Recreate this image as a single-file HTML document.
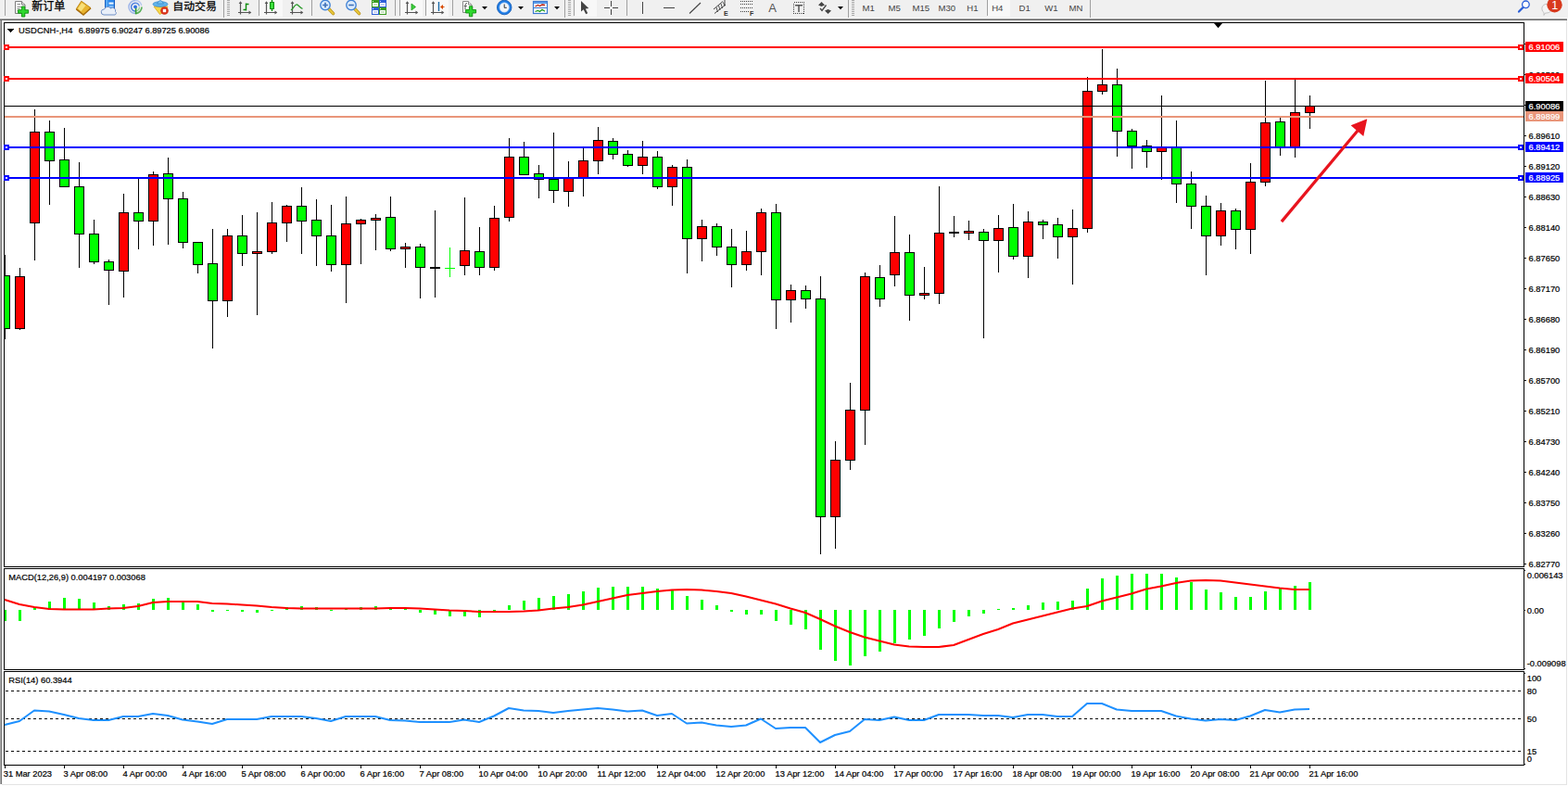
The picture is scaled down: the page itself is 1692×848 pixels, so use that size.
<!DOCTYPE html>
<html><head><meta charset="utf-8"><title>USDCNH H4</title>
<style>
html,body{margin:0;padding:0;background:#fff;}
body{width:1692px;height:848px;overflow:hidden;position:relative;font-family:"Liberation Sans",sans-serif;}
svg{position:absolute;left:0;top:0;display:block;}
svg text{font-family:"Liberation Sans",sans-serif;white-space:pre;}
</style></head><body>
<svg width="1692" height="848" viewBox="0 0 1692 848">
<g shape-rendering="crispEdges">
<rect x="0" y="0" width="1692" height="19" fill="#f0f0f0"/>
<rect x="0" y="19" width="1692" height="1" fill="#f9f9f9"/>
<rect x="0" y="20" width="1691" height="1" fill="#a0a0a0"/>
<rect x="0" y="21" width="1691" height="1" fill="#696969"/>
<rect x="0" y="22" width="1" height="824" fill="#a8a8a8"/>
<rect x="1" y="22" width="1" height="824" fill="#757575"/>
<rect x="1690" y="22" width="1" height="825" fill="#e3e3e3"/>
<rect x="2" y="846" width="1689" height="1" fill="#e3e3e3"/>
<rect x="4" y="24" width="1641" height="1" fill="#000"/>
<rect x="4" y="611" width="1641" height="1" fill="#000"/>
<rect x="4" y="24" width="1" height="588" fill="#000"/>
<rect x="1644" y="24" width="1" height="588" fill="#000"/>
<rect x="4" y="613" width="1641" height="1" fill="#000"/>
<rect x="4" y="722" width="1641" height="1" fill="#000"/>
<rect x="4" y="613" width="1" height="110" fill="#000"/>
<rect x="1644" y="613" width="1" height="110" fill="#000"/>
<rect x="4" y="724" width="1641" height="1" fill="#000"/>
<rect x="4" y="825" width="1641" height="1" fill="#000"/>
<rect x="4" y="724" width="1" height="102" fill="#000"/>
<rect x="1644" y="724" width="1" height="102" fill="#000"/>
<rect x="5" y="275" width="1" height="91" fill="#000"/>
<rect x="5" y="297" width="6" height="58" fill="#000"/>
<rect x="5" y="298" width="5" height="56" fill="#00ff00"/>
<rect x="21" y="289" width="1" height="67" fill="#000"/>
<rect x="16" y="298" width="11" height="57" fill="#000"/>
<rect x="17" y="299" width="9" height="55" fill="#ff0000"/>
<rect x="37" y="118" width="1" height="163" fill="#000"/>
<rect x="32" y="142" width="11" height="99" fill="#000"/>
<rect x="33" y="143" width="9" height="97" fill="#ff0000"/>
<rect x="53" y="130" width="1" height="91" fill="#000"/>
<rect x="48" y="142" width="11" height="32" fill="#000"/>
<rect x="49" y="143" width="9" height="30" fill="#00ff00"/>
<rect x="69" y="138" width="1" height="64" fill="#000"/>
<rect x="64" y="172" width="11" height="30" fill="#000"/>
<rect x="65" y="173" width="9" height="28" fill="#00ff00"/>
<rect x="85" y="175" width="1" height="114" fill="#000"/>
<rect x="80" y="201" width="11" height="52" fill="#000"/>
<rect x="81" y="202" width="9" height="50" fill="#00ff00"/>
<rect x="101" y="237" width="1" height="48" fill="#000"/>
<rect x="96" y="252" width="11" height="31" fill="#000"/>
<rect x="97" y="253" width="9" height="29" fill="#00ff00"/>
<rect x="117" y="280" width="1" height="49" fill="#000"/>
<rect x="112" y="282" width="11" height="10" fill="#000"/>
<rect x="113" y="283" width="9" height="8" fill="#00ff00"/>
<rect x="133" y="209" width="1" height="112" fill="#000"/>
<rect x="128" y="229" width="11" height="64" fill="#000"/>
<rect x="129" y="230" width="9" height="62" fill="#ff0000"/>
<rect x="149" y="192" width="1" height="77" fill="#000"/>
<rect x="144" y="229" width="11" height="10" fill="#000"/>
<rect x="145" y="230" width="9" height="8" fill="#00ff00"/>
<rect x="165" y="185" width="1" height="80" fill="#000"/>
<rect x="160" y="188" width="11" height="51" fill="#000"/>
<rect x="161" y="189" width="9" height="49" fill="#ff0000"/>
<rect x="181" y="170" width="1" height="94" fill="#000"/>
<rect x="176" y="187" width="11" height="28" fill="#000"/>
<rect x="177" y="188" width="9" height="26" fill="#00ff00"/>
<rect x="197" y="207" width="1" height="61" fill="#000"/>
<rect x="192" y="214" width="11" height="48" fill="#000"/>
<rect x="193" y="215" width="9" height="46" fill="#00ff00"/>
<rect x="213" y="261" width="1" height="34" fill="#000"/>
<rect x="208" y="261" width="11" height="25" fill="#000"/>
<rect x="209" y="262" width="9" height="23" fill="#00ff00"/>
<rect x="229" y="247" width="1" height="129" fill="#000"/>
<rect x="224" y="284" width="11" height="41" fill="#000"/>
<rect x="225" y="285" width="9" height="39" fill="#00ff00"/>
<rect x="245" y="247" width="1" height="95" fill="#000"/>
<rect x="240" y="254" width="11" height="71" fill="#000"/>
<rect x="241" y="255" width="9" height="69" fill="#ff0000"/>
<rect x="261" y="232" width="1" height="55" fill="#000"/>
<rect x="256" y="254" width="11" height="20" fill="#000"/>
<rect x="257" y="255" width="9" height="18" fill="#00ff00"/>
<rect x="277" y="229" width="1" height="111" fill="#000"/>
<rect x="272" y="271" width="11" height="3" fill="#000"/>
<rect x="273" y="272" width="9" height="1" fill="#ff0000"/>
<rect x="293" y="218" width="1" height="56" fill="#000"/>
<rect x="288" y="240" width="11" height="32" fill="#000"/>
<rect x="289" y="241" width="9" height="30" fill="#ff0000"/>
<rect x="309" y="221" width="1" height="40" fill="#000"/>
<rect x="304" y="222" width="11" height="19" fill="#000"/>
<rect x="305" y="223" width="9" height="17" fill="#ff0000"/>
<rect x="325" y="202" width="1" height="72" fill="#000"/>
<rect x="320" y="222" width="11" height="17" fill="#000"/>
<rect x="321" y="223" width="9" height="15" fill="#00ff00"/>
<rect x="341" y="215" width="1" height="72" fill="#000"/>
<rect x="336" y="237" width="11" height="18" fill="#000"/>
<rect x="337" y="238" width="9" height="16" fill="#00ff00"/>
<rect x="357" y="221" width="1" height="72" fill="#000"/>
<rect x="352" y="254" width="11" height="32" fill="#000"/>
<rect x="353" y="255" width="9" height="30" fill="#00ff00"/>
<rect x="373" y="212" width="1" height="115" fill="#000"/>
<rect x="368" y="241" width="11" height="45" fill="#000"/>
<rect x="369" y="242" width="9" height="43" fill="#ff0000"/>
<rect x="389" y="236" width="1" height="49" fill="#000"/>
<rect x="384" y="237" width="11" height="5" fill="#000"/>
<rect x="385" y="238" width="9" height="3" fill="#ff0000"/>
<rect x="405" y="231" width="1" height="39" fill="#000"/>
<rect x="400" y="235" width="11" height="3" fill="#000"/>
<rect x="401" y="236" width="9" height="1" fill="#ff0000"/>
<rect x="421" y="212" width="1" height="59" fill="#000"/>
<rect x="416" y="234" width="11" height="35" fill="#000"/>
<rect x="417" y="235" width="9" height="33" fill="#00ff00"/>
<rect x="437" y="262" width="1" height="27" fill="#000"/>
<rect x="432" y="266" width="11" height="3" fill="#000"/>
<rect x="433" y="267" width="9" height="1" fill="#ff0000"/>
<rect x="453" y="263" width="1" height="59" fill="#000"/>
<rect x="448" y="266" width="11" height="23" fill="#000"/>
<rect x="449" y="267" width="9" height="21" fill="#00ff00"/>
<rect x="469" y="227" width="1" height="94" fill="#000"/>
<rect x="464" y="288" width="11" height="2" fill="#000"/>
<rect x="485" y="267" width="1" height="32" fill="#00ff00"/>
<rect x="480" y="289" width="11" height="1" fill="#00ff00"/>
<rect x="501" y="213" width="1" height="84" fill="#000"/>
<rect x="496" y="270" width="11" height="17" fill="#000"/>
<rect x="497" y="271" width="9" height="15" fill="#ff0000"/>
<rect x="517" y="245" width="1" height="52" fill="#000"/>
<rect x="512" y="271" width="11" height="18" fill="#000"/>
<rect x="513" y="272" width="9" height="16" fill="#00ff00"/>
<rect x="533" y="222" width="1" height="70" fill="#000"/>
<rect x="528" y="235" width="11" height="54" fill="#000"/>
<rect x="529" y="236" width="9" height="52" fill="#ff0000"/>
<rect x="549" y="149" width="1" height="90" fill="#000"/>
<rect x="544" y="169" width="11" height="66" fill="#000"/>
<rect x="545" y="170" width="9" height="64" fill="#ff0000"/>
<rect x="565" y="153" width="1" height="36" fill="#000"/>
<rect x="560" y="169" width="11" height="20" fill="#000"/>
<rect x="561" y="170" width="9" height="18" fill="#00ff00"/>
<rect x="581" y="178" width="1" height="36" fill="#000"/>
<rect x="576" y="187" width="11" height="7" fill="#000"/>
<rect x="577" y="188" width="9" height="5" fill="#00ff00"/>
<rect x="597" y="143" width="1" height="76" fill="#000"/>
<rect x="592" y="193" width="11" height="13" fill="#000"/>
<rect x="593" y="194" width="9" height="11" fill="#00ff00"/>
<rect x="613" y="174" width="1" height="49" fill="#000"/>
<rect x="608" y="192" width="11" height="15" fill="#000"/>
<rect x="609" y="193" width="9" height="13" fill="#ff0000"/>
<rect x="629" y="160" width="1" height="52" fill="#000"/>
<rect x="624" y="173" width="11" height="19" fill="#000"/>
<rect x="625" y="174" width="9" height="17" fill="#ff0000"/>
<rect x="645" y="137" width="1" height="51" fill="#000"/>
<rect x="640" y="151" width="11" height="23" fill="#000"/>
<rect x="641" y="152" width="9" height="21" fill="#ff0000"/>
<rect x="661" y="149" width="1" height="23" fill="#000"/>
<rect x="656" y="152" width="11" height="15" fill="#000"/>
<rect x="657" y="153" width="9" height="13" fill="#00ff00"/>
<rect x="677" y="162" width="1" height="18" fill="#000"/>
<rect x="672" y="166" width="11" height="13" fill="#000"/>
<rect x="673" y="167" width="9" height="11" fill="#00ff00"/>
<rect x="693" y="152" width="1" height="36" fill="#000"/>
<rect x="688" y="169" width="11" height="10" fill="#000"/>
<rect x="689" y="170" width="9" height="8" fill="#ff0000"/>
<rect x="709" y="163" width="1" height="41" fill="#000"/>
<rect x="704" y="169" width="11" height="33" fill="#000"/>
<rect x="705" y="170" width="9" height="31" fill="#00ff00"/>
<rect x="725" y="178" width="1" height="44" fill="#000"/>
<rect x="720" y="180" width="11" height="22" fill="#000"/>
<rect x="721" y="181" width="9" height="20" fill="#ff0000"/>
<rect x="741" y="172" width="1" height="123" fill="#000"/>
<rect x="736" y="180" width="11" height="78" fill="#000"/>
<rect x="737" y="181" width="9" height="76" fill="#00ff00"/>
<rect x="757" y="237" width="1" height="45" fill="#000"/>
<rect x="752" y="244" width="11" height="14" fill="#000"/>
<rect x="753" y="245" width="9" height="12" fill="#ff0000"/>
<rect x="773" y="241" width="1" height="35" fill="#000"/>
<rect x="768" y="244" width="11" height="23" fill="#000"/>
<rect x="769" y="245" width="9" height="21" fill="#00ff00"/>
<rect x="789" y="247" width="1" height="63" fill="#000"/>
<rect x="784" y="266" width="11" height="20" fill="#000"/>
<rect x="785" y="267" width="9" height="18" fill="#00ff00"/>
<rect x="805" y="249" width="1" height="43" fill="#000"/>
<rect x="800" y="271" width="11" height="15" fill="#000"/>
<rect x="801" y="272" width="9" height="13" fill="#ff0000"/>
<rect x="821" y="225" width="1" height="72" fill="#000"/>
<rect x="816" y="229" width="11" height="43" fill="#000"/>
<rect x="817" y="230" width="9" height="41" fill="#ff0000"/>
<rect x="837" y="220" width="1" height="135" fill="#000"/>
<rect x="832" y="229" width="11" height="95" fill="#000"/>
<rect x="833" y="230" width="9" height="93" fill="#00ff00"/>
<rect x="853" y="307" width="1" height="41" fill="#000"/>
<rect x="848" y="313" width="11" height="11" fill="#000"/>
<rect x="849" y="314" width="9" height="9" fill="#ff0000"/>
<rect x="869" y="308" width="1" height="25" fill="#000"/>
<rect x="864" y="313" width="11" height="10" fill="#000"/>
<rect x="865" y="314" width="9" height="8" fill="#00ff00"/>
<rect x="885" y="298" width="1" height="300" fill="#000"/>
<rect x="880" y="322" width="11" height="236" fill="#000"/>
<rect x="881" y="323" width="9" height="234" fill="#00ff00"/>
<rect x="901" y="476" width="1" height="116" fill="#000"/>
<rect x="896" y="496" width="11" height="62" fill="#000"/>
<rect x="897" y="497" width="9" height="60" fill="#ff0000"/>
<rect x="917" y="413" width="1" height="94" fill="#000"/>
<rect x="912" y="442" width="11" height="55" fill="#000"/>
<rect x="913" y="443" width="9" height="53" fill="#ff0000"/>
<rect x="933" y="294" width="1" height="186" fill="#000"/>
<rect x="928" y="298" width="11" height="145" fill="#000"/>
<rect x="929" y="299" width="9" height="143" fill="#ff0000"/>
<rect x="949" y="286" width="1" height="45" fill="#000"/>
<rect x="944" y="299" width="11" height="24" fill="#000"/>
<rect x="945" y="300" width="9" height="22" fill="#00ff00"/>
<rect x="965" y="233" width="1" height="76" fill="#000"/>
<rect x="960" y="272" width="11" height="25" fill="#000"/>
<rect x="961" y="273" width="9" height="23" fill="#ff0000"/>
<rect x="981" y="253" width="1" height="93" fill="#000"/>
<rect x="976" y="272" width="11" height="47" fill="#000"/>
<rect x="977" y="273" width="9" height="45" fill="#00ff00"/>
<rect x="997" y="288" width="1" height="35" fill="#000"/>
<rect x="992" y="316" width="11" height="3" fill="#000"/>
<rect x="993" y="317" width="9" height="1" fill="#ff0000"/>
<rect x="1013" y="201" width="1" height="127" fill="#000"/>
<rect x="1008" y="251" width="11" height="66" fill="#000"/>
<rect x="1009" y="252" width="9" height="64" fill="#ff0000"/>
<rect x="1029" y="233" width="1" height="23" fill="#000"/>
<rect x="1024" y="250" width="11" height="2" fill="#000"/>
<rect x="1045" y="238" width="1" height="21" fill="#000"/>
<rect x="1040" y="249" width="11" height="3" fill="#000"/>
<rect x="1041" y="250" width="9" height="1" fill="#ff0000"/>
<rect x="1061" y="247" width="1" height="118" fill="#000"/>
<rect x="1056" y="250" width="11" height="10" fill="#000"/>
<rect x="1057" y="251" width="9" height="8" fill="#00ff00"/>
<rect x="1077" y="232" width="1" height="62" fill="#000"/>
<rect x="1072" y="246" width="11" height="14" fill="#000"/>
<rect x="1073" y="247" width="9" height="12" fill="#ff0000"/>
<rect x="1093" y="220" width="1" height="60" fill="#000"/>
<rect x="1088" y="245" width="11" height="32" fill="#000"/>
<rect x="1089" y="246" width="9" height="30" fill="#00ff00"/>
<rect x="1109" y="228" width="1" height="72" fill="#000"/>
<rect x="1104" y="239" width="11" height="38" fill="#000"/>
<rect x="1105" y="240" width="9" height="36" fill="#ff0000"/>
<rect x="1125" y="237" width="1" height="21" fill="#000"/>
<rect x="1120" y="239" width="11" height="4" fill="#000"/>
<rect x="1121" y="240" width="9" height="2" fill="#00ff00"/>
<rect x="1141" y="235" width="1" height="44" fill="#000"/>
<rect x="1136" y="242" width="11" height="14" fill="#000"/>
<rect x="1137" y="243" width="9" height="12" fill="#00ff00"/>
<rect x="1157" y="226" width="1" height="81" fill="#000"/>
<rect x="1152" y="246" width="11" height="10" fill="#000"/>
<rect x="1153" y="247" width="9" height="8" fill="#ff0000"/>
<rect x="1173" y="83" width="1" height="168" fill="#000"/>
<rect x="1168" y="98" width="11" height="149" fill="#000"/>
<rect x="1169" y="99" width="9" height="147" fill="#ff0000"/>
<rect x="1189" y="53" width="1" height="49" fill="#000"/>
<rect x="1184" y="91" width="11" height="8" fill="#000"/>
<rect x="1185" y="92" width="9" height="6" fill="#ff0000"/>
<rect x="1205" y="74" width="1" height="95" fill="#000"/>
<rect x="1200" y="91" width="11" height="51" fill="#000"/>
<rect x="1201" y="92" width="9" height="49" fill="#00ff00"/>
<rect x="1221" y="139" width="1" height="43" fill="#000"/>
<rect x="1216" y="141" width="11" height="17" fill="#000"/>
<rect x="1217" y="142" width="9" height="15" fill="#00ff00"/>
<rect x="1237" y="151" width="1" height="30" fill="#000"/>
<rect x="1232" y="157" width="11" height="7" fill="#000"/>
<rect x="1233" y="158" width="9" height="5" fill="#00ff00"/>
<rect x="1253" y="103" width="1" height="91" fill="#000"/>
<rect x="1248" y="159" width="11" height="5" fill="#000"/>
<rect x="1249" y="160" width="9" height="3" fill="#ff0000"/>
<rect x="1269" y="130" width="1" height="89" fill="#000"/>
<rect x="1264" y="159" width="11" height="40" fill="#000"/>
<rect x="1265" y="160" width="9" height="38" fill="#00ff00"/>
<rect x="1285" y="185" width="1" height="62" fill="#000"/>
<rect x="1280" y="198" width="11" height="25" fill="#000"/>
<rect x="1281" y="199" width="9" height="23" fill="#00ff00"/>
<rect x="1301" y="211" width="1" height="86" fill="#000"/>
<rect x="1296" y="222" width="11" height="33" fill="#000"/>
<rect x="1297" y="223" width="9" height="31" fill="#00ff00"/>
<rect x="1317" y="219" width="1" height="46" fill="#000"/>
<rect x="1312" y="227" width="11" height="28" fill="#000"/>
<rect x="1313" y="228" width="9" height="26" fill="#ff0000"/>
<rect x="1333" y="225" width="1" height="44" fill="#000"/>
<rect x="1328" y="227" width="11" height="21" fill="#000"/>
<rect x="1329" y="228" width="9" height="19" fill="#00ff00"/>
<rect x="1349" y="176" width="1" height="98" fill="#000"/>
<rect x="1344" y="196" width="11" height="52" fill="#000"/>
<rect x="1345" y="197" width="9" height="50" fill="#ff0000"/>
<rect x="1365" y="87" width="1" height="114" fill="#000"/>
<rect x="1360" y="132" width="11" height="65" fill="#000"/>
<rect x="1361" y="133" width="9" height="63" fill="#ff0000"/>
<rect x="1381" y="127" width="1" height="41" fill="#000"/>
<rect x="1376" y="131" width="11" height="28" fill="#000"/>
<rect x="1377" y="132" width="9" height="26" fill="#00ff00"/>
<rect x="1397" y="86" width="1" height="84" fill="#000"/>
<rect x="1392" y="121" width="11" height="38" fill="#000"/>
<rect x="1393" y="122" width="9" height="36" fill="#ff0000"/>
<rect x="1413" y="103" width="1" height="36" fill="#000"/>
<rect x="1408" y="114" width="11" height="8" fill="#000"/>
<rect x="1409" y="115" width="9" height="6" fill="#ff0000"/>
</g>
<g id="pticks">
<rect x="1645" y="47" width="2" height="1" fill="#000" shape-rendering="crispEdges"/>
<text transform="translate(1649.6 50.5) scale(0.9615 1)" fill="#000" stroke="#000" stroke-width="0.22" font-size="9.70">6.91070</text>
<rect x="1645" y="80" width="2" height="1" fill="#000" shape-rendering="crispEdges"/>
<text transform="translate(1649.6 84) scale(0.9615 1)" fill="#000" stroke="#000" stroke-width="0.22" font-size="9.70">6.90590</text>
<rect x="1645" y="113" width="2" height="1" fill="#000" shape-rendering="crispEdges"/>
<text transform="translate(1649.6 117) scale(0.9615 1)" fill="#000" stroke="#000" stroke-width="0.22" font-size="9.70">6.90100</text>
<rect x="1645" y="146" width="2" height="1" fill="#000" shape-rendering="crispEdges"/>
<text transform="translate(1649.6 150) scale(0.9615 1)" fill="#000" stroke="#000" stroke-width="0.22" font-size="9.70">6.89610</text>
<rect x="1645" y="179" width="2" height="1" fill="#000" shape-rendering="crispEdges"/>
<text transform="translate(1649.6 183) scale(0.9615 1)" fill="#000" stroke="#000" stroke-width="0.22" font-size="9.70">6.89120</text>
<rect x="1645" y="212" width="2" height="1" fill="#000" shape-rendering="crispEdges"/>
<text transform="translate(1649.6 216) scale(0.9615 1)" fill="#000" stroke="#000" stroke-width="0.22" font-size="9.70">6.88630</text>
<rect x="1645" y="245" width="2" height="1" fill="#000" shape-rendering="crispEdges"/>
<text transform="translate(1649.6 249) scale(0.9615 1)" fill="#000" stroke="#000" stroke-width="0.22" font-size="9.70">6.88140</text>
<rect x="1645" y="278" width="2" height="1" fill="#000" shape-rendering="crispEdges"/>
<text transform="translate(1649.6 282) scale(0.9615 1)" fill="#000" stroke="#000" stroke-width="0.22" font-size="9.70">6.87650</text>
<rect x="1645" y="311" width="2" height="1" fill="#000" shape-rendering="crispEdges"/>
<text transform="translate(1649.6 315) scale(0.9615 1)" fill="#000" stroke="#000" stroke-width="0.22" font-size="9.70">6.87170</text>
<rect x="1645" y="344" width="2" height="1" fill="#000" shape-rendering="crispEdges"/>
<text transform="translate(1649.6 348) scale(0.9615 1)" fill="#000" stroke="#000" stroke-width="0.22" font-size="9.70">6.86680</text>
<rect x="1645" y="377" width="2" height="1" fill="#000" shape-rendering="crispEdges"/>
<text transform="translate(1649.6 381) scale(0.9615 1)" fill="#000" stroke="#000" stroke-width="0.22" font-size="9.70">6.86190</text>
<rect x="1645" y="410" width="2" height="1" fill="#000" shape-rendering="crispEdges"/>
<text transform="translate(1649.6 414) scale(0.9615 1)" fill="#000" stroke="#000" stroke-width="0.22" font-size="9.70">6.85700</text>
<rect x="1645" y="443" width="2" height="1" fill="#000" shape-rendering="crispEdges"/>
<text transform="translate(1649.6 447) scale(0.9615 1)" fill="#000" stroke="#000" stroke-width="0.22" font-size="9.70">6.85210</text>
<rect x="1645" y="476" width="2" height="1" fill="#000" shape-rendering="crispEdges"/>
<text transform="translate(1649.6 480) scale(0.9615 1)" fill="#000" stroke="#000" stroke-width="0.22" font-size="9.70">6.84730</text>
<rect x="1645" y="509" width="2" height="1" fill="#000" shape-rendering="crispEdges"/>
<text transform="translate(1649.6 513) scale(0.9615 1)" fill="#000" stroke="#000" stroke-width="0.22" font-size="9.70">6.84240</text>
<rect x="1645" y="542" width="2" height="1" fill="#000" shape-rendering="crispEdges"/>
<text transform="translate(1649.6 546) scale(0.9615 1)" fill="#000" stroke="#000" stroke-width="0.22" font-size="9.70">6.83750</text>
<rect x="1645" y="575" width="2" height="1" fill="#000" shape-rendering="crispEdges"/>
<text transform="translate(1649.6 579) scale(0.9615 1)" fill="#000" stroke="#000" stroke-width="0.22" font-size="9.70">6.83260</text>
<rect x="1645" y="608" width="2" height="1" fill="#000" shape-rendering="crispEdges"/>
<text transform="translate(1649.6 612) scale(0.9615 1)" fill="#000" stroke="#000" stroke-width="0.22" font-size="9.70">6.82770</text>
</g>
<g shape-rendering="crispEdges">
<rect x="5" y="50" width="1639" height="2" fill="#ff0000"/>
<rect x="1646" y="45" width="41" height="11" fill="#ff0000"/>
<rect x="4" y="48" width="6" height="6" fill="#ff0000"/>
<rect x="6" y="50" width="2" height="2" fill="#fff"/>
<rect x="1638" y="48" width="6" height="6" fill="#ff0000"/>
<rect x="1640" y="50" width="2" height="2" fill="#fff"/>
<rect x="5" y="84" width="1639" height="2" fill="#ff0000"/>
<rect x="1646" y="79" width="41" height="11" fill="#ff0000"/>
<rect x="4" y="82" width="6" height="6" fill="#ff0000"/>
<rect x="6" y="84" width="2" height="2" fill="#fff"/>
<rect x="1638" y="82" width="6" height="6" fill="#ff0000"/>
<rect x="1640" y="84" width="2" height="2" fill="#fff"/>
<rect x="5" y="114" width="1639" height="1" fill="#000000"/>
<rect x="1646" y="109" width="41" height="11" fill="#000000"/>
<rect x="5" y="125" width="1639" height="2" fill="#e9967a"/>
<rect x="1646" y="120" width="41" height="11" fill="#e9967a"/>
<rect x="5" y="158" width="1639" height="2" fill="#0000ff"/>
<rect x="1646" y="153" width="41" height="11" fill="#0000ff"/>
<rect x="4" y="156" width="6" height="6" fill="#0000ff"/>
<rect x="6" y="158" width="2" height="2" fill="#fff"/>
<rect x="1638" y="156" width="6" height="6" fill="#0000ff"/>
<rect x="1640" y="158" width="2" height="2" fill="#fff"/>
<rect x="5" y="191" width="1639" height="2" fill="#0000ff"/>
<rect x="1646" y="186" width="41" height="11" fill="#0000ff"/>
<rect x="4" y="189" width="6" height="6" fill="#0000ff"/>
<rect x="6" y="191" width="2" height="2" fill="#fff"/>
<rect x="1638" y="189" width="6" height="6" fill="#0000ff"/>
<rect x="1640" y="191" width="2" height="2" fill="#fff"/>
</g>
<text transform="translate(1649.6 54) scale(0.9615 1)" fill="#fff" stroke="#fff" stroke-width="0.22" font-size="9.70">6.91006</text>
<text transform="translate(1649.6 88) scale(0.9615 1)" fill="#fff" stroke="#fff" stroke-width="0.22" font-size="9.70">6.90504</text>
<text transform="translate(1649.6 118) scale(0.9615 1)" fill="#fff" stroke="#fff" stroke-width="0.22" font-size="9.70">6.90086</text>
<text transform="translate(1649.6 129) scale(0.9615 1)" fill="#fff" stroke="#fff" stroke-width="0.22" font-size="9.70">6.89899</text>
<text transform="translate(1649.6 162) scale(0.9615 1)" fill="#fff" stroke="#fff" stroke-width="0.22" font-size="9.70">6.89412</text>
<text transform="translate(1649.6 195) scale(0.9615 1)" fill="#fff" stroke="#fff" stroke-width="0.22" font-size="9.70">6.88925</text>
<g fill="#e8141e" stroke="none"><path d="M1382.9 239.1 L1465 141" stroke="#e8141e" stroke-width="3.2" fill="none"/><path d="M1475.3 128.2 L1457.6 135.3 L1471.3 147 Z"/></g>
<path d="M8 31h7v1h-1v1h-1v1h-1v1h-1v-1h-1v-1h-1v-1h-1z" fill="#000" shape-rendering="crispEdges"/>
<text transform="translate(19.9 36) scale(0.9615 1)" fill="#000" stroke="#000" stroke-width="0.22" font-size="9.70" textLength="60.8" lengthAdjust="spacing">USDCNH-,H4</text>
<text transform="translate(84.7 36) scale(0.9615 1)" fill="#000" stroke="#000" stroke-width="0.22" font-size="9.70" textLength="146.8" lengthAdjust="spacing">6.89975 6.90247 6.89725 6.90086</text>
<path d="M1309.6 24.5 L1319.4 24.5 L1314.5 30.2 z" fill="#000"/>
<g shape-rendering="crispEdges">
<rect x="5" y="658" width="2" height="12" fill="#00ff00"/>
<rect x="20" y="658" width="3" height="12" fill="#00ff00"/>
<rect x="36" y="655" width="3" height="3" fill="#00ff00"/>
<rect x="52" y="649" width="3" height="9" fill="#00ff00"/>
<rect x="68" y="645" width="3" height="13" fill="#00ff00"/>
<rect x="84" y="646" width="3" height="12" fill="#00ff00"/>
<rect x="100" y="650" width="3" height="8" fill="#00ff00"/>
<rect x="116" y="654" width="3" height="4" fill="#00ff00"/>
<rect x="132" y="652" width="3" height="6" fill="#00ff00"/>
<rect x="148" y="651" width="3" height="7" fill="#00ff00"/>
<rect x="164" y="646" width="3" height="12" fill="#00ff00"/>
<rect x="180" y="645" width="3" height="13" fill="#00ff00"/>
<rect x="196" y="649" width="3" height="9" fill="#00ff00"/>
<rect x="212" y="652" width="3" height="6" fill="#00ff00"/>
<rect x="228" y="658" width="3" height="2" fill="#00ff00"/>
<rect x="244" y="658" width="3" height="1" fill="#00ff00"/>
<rect x="260" y="658" width="3" height="2" fill="#00ff00"/>
<rect x="276" y="658" width="3" height="3" fill="#00ff00"/>
<rect x="292" y="658" width="3" height="1" fill="#00ff00"/>
<rect x="308" y="655" width="3" height="3" fill="#00ff00"/>
<rect x="324" y="654" width="3" height="4" fill="#00ff00"/>
<rect x="340" y="655" width="3" height="3" fill="#00ff00"/>
<rect x="356" y="658" width="3" height="1" fill="#00ff00"/>
<rect x="372" y="657" width="3" height="1" fill="#00ff00"/>
<rect x="388" y="655" width="3" height="3" fill="#00ff00"/>
<rect x="404" y="654" width="3" height="4" fill="#00ff00"/>
<rect x="420" y="655" width="3" height="3" fill="#00ff00"/>
<rect x="436" y="657" width="3" height="1" fill="#00ff00"/>
<rect x="452" y="658" width="3" height="3" fill="#00ff00"/>
<rect x="468" y="658" width="3" height="5" fill="#00ff00"/>
<rect x="484" y="658" width="3" height="7" fill="#00ff00"/>
<rect x="500" y="658" width="3" height="7" fill="#00ff00"/>
<rect x="516" y="658" width="3" height="8" fill="#00ff00"/>
<rect x="532" y="658" width="3" height="3" fill="#00ff00"/>
<rect x="548" y="653" width="3" height="5" fill="#00ff00"/>
<rect x="564" y="648" width="3" height="10" fill="#00ff00"/>
<rect x="580" y="645" width="3" height="13" fill="#00ff00"/>
<rect x="596" y="643" width="3" height="15" fill="#00ff00"/>
<rect x="612" y="641" width="3" height="17" fill="#00ff00"/>
<rect x="628" y="638" width="3" height="20" fill="#00ff00"/>
<rect x="644" y="634" width="3" height="24" fill="#00ff00"/>
<rect x="660" y="633" width="3" height="25" fill="#00ff00"/>
<rect x="676" y="633" width="3" height="25" fill="#00ff00"/>
<rect x="692" y="633" width="3" height="25" fill="#00ff00"/>
<rect x="708" y="635" width="3" height="23" fill="#00ff00"/>
<rect x="724" y="637" width="3" height="21" fill="#00ff00"/>
<rect x="740" y="643" width="3" height="15" fill="#00ff00"/>
<rect x="756" y="647" width="3" height="11" fill="#00ff00"/>
<rect x="772" y="653" width="3" height="5" fill="#00ff00"/>
<rect x="788" y="658" width="3" height="2" fill="#00ff00"/>
<rect x="804" y="658" width="3" height="5" fill="#00ff00"/>
<rect x="820" y="658" width="3" height="5" fill="#00ff00"/>
<rect x="836" y="658" width="3" height="12" fill="#00ff00"/>
<rect x="852" y="658" width="3" height="16" fill="#00ff00"/>
<rect x="868" y="658" width="3" height="21" fill="#00ff00"/>
<rect x="884" y="658" width="3" height="43" fill="#00ff00"/>
<rect x="900" y="658" width="3" height="55" fill="#00ff00"/>
<rect x="916" y="658" width="3" height="60" fill="#00ff00"/>
<rect x="932" y="658" width="3" height="50" fill="#00ff00"/>
<rect x="948" y="658" width="3" height="45" fill="#00ff00"/>
<rect x="964" y="658" width="3" height="36" fill="#00ff00"/>
<rect x="980" y="658" width="3" height="32" fill="#00ff00"/>
<rect x="996" y="658" width="3" height="28" fill="#00ff00"/>
<rect x="1012" y="658" width="3" height="20" fill="#00ff00"/>
<rect x="1028" y="658" width="3" height="13" fill="#00ff00"/>
<rect x="1044" y="658" width="3" height="7" fill="#00ff00"/>
<rect x="1060" y="658" width="3" height="4" fill="#00ff00"/>
<rect x="1076" y="657" width="3" height="1" fill="#00ff00"/>
<rect x="1092" y="656" width="3" height="2" fill="#00ff00"/>
<rect x="1108" y="653" width="3" height="5" fill="#00ff00"/>
<rect x="1124" y="650" width="3" height="8" fill="#00ff00"/>
<rect x="1140" y="649" width="3" height="9" fill="#00ff00"/>
<rect x="1156" y="648" width="3" height="10" fill="#00ff00"/>
<rect x="1172" y="635" width="3" height="23" fill="#00ff00"/>
<rect x="1188" y="624" width="3" height="34" fill="#00ff00"/>
<rect x="1204" y="621" width="3" height="37" fill="#00ff00"/>
<rect x="1220" y="619" width="3" height="39" fill="#00ff00"/>
<rect x="1236" y="619" width="3" height="39" fill="#00ff00"/>
<rect x="1252" y="619" width="3" height="39" fill="#00ff00"/>
<rect x="1268" y="623" width="3" height="35" fill="#00ff00"/>
<rect x="1284" y="628" width="3" height="30" fill="#00ff00"/>
<rect x="1300" y="636" width="3" height="22" fill="#00ff00"/>
<rect x="1316" y="639" width="3" height="19" fill="#00ff00"/>
<rect x="1332" y="644" width="3" height="14" fill="#00ff00"/>
<rect x="1348" y="644" width="3" height="14" fill="#00ff00"/>
<rect x="1364" y="638" width="3" height="20" fill="#00ff00"/>
<rect x="1380" y="635" width="3" height="23" fill="#00ff00"/>
<rect x="1396" y="632" width="3" height="26" fill="#00ff00"/>
<rect x="1412" y="628" width="3" height="30" fill="#00ff00"/>
</g>
<polyline points="5,647 21,652 37,655 53,657 69,657.5 85,657.5 101,657.5 117,656.5 133,656 149,654 165,650 181,649 197,649 213,649 229,651 245,651.5 261,652.5 277,653.5 293,655 309,656 325,656.5 341,656.5 357,656.5 373,656.5 389,656.5 405,656.5 421,656 437,656 453,656.5 469,657.5 485,658.5 501,659 517,660 533,660 549,660 565,659.5 581,658.5 597,656.5 613,655 629,652.5 645,649 661,645.5 677,642 693,640 709,638 725,636.5 741,636 757,636.5 773,638 789,640 805,643.5 821,647.5 837,651.5 853,656.5 869,661 885,668 901,675.5 917,682 933,687.5 949,691.5 965,695.5 981,697.5 997,698 1013,698 1029,696 1045,690 1061,684 1077,679 1093,672.5 1109,668.5 1125,664.5 1141,660.5 1157,656.5 1173,654 1189,648.5 1205,644.5 1221,640.5 1237,635.5 1253,632.5 1269,629 1285,626.5 1301,626 1317,626.5 1333,628.5 1349,630.5 1365,632.5 1381,634.5 1397,636 1413,636" fill="none" stroke="#ff0000" stroke-width="2" stroke-linejoin="round"/>
<text transform="translate(9.3 626) scale(0.9615 1)" fill="#000" stroke="#000" stroke-width="0.22" font-size="9.70">MACD(12,26,9) 0.004197 0.003068</text>
<rect x="1645" y="615" width="1" height="1" fill="#000" shape-rendering="crispEdges"/>
<text transform="translate(1647.7 624) scale(0.9615 1)" fill="#000" stroke="#000" stroke-width="0.22" font-size="9.70">0.006143</text>
<rect x="1645" y="658" width="1" height="1" fill="#000" shape-rendering="crispEdges"/>
<text transform="translate(1647.7 662) scale(0.9615 1)" fill="#000" stroke="#000" stroke-width="0.22" font-size="9.70">0.00</text>
<rect x="1645" y="721" width="1" height="1" fill="#000" shape-rendering="crispEdges"/>
<text transform="translate(1647.7 719) scale(0.9615 1)" fill="#000" stroke="#000" stroke-width="0.22" font-size="9.70">-0.009098</text>
<line x1="6" x2="1642" y1="745.5" y2="745.5" stroke="#000" stroke-width="1" stroke-dasharray="3 3" shape-rendering="crispEdges"/>
<line x1="6" x2="1642" y1="775.5" y2="775.5" stroke="#000" stroke-width="1" stroke-dasharray="3 3" shape-rendering="crispEdges"/>
<line x1="6" x2="1642" y1="810.5" y2="810.5" stroke="#000" stroke-width="1" stroke-dasharray="3 3" shape-rendering="crispEdges"/>
<polyline points="5,782 21,778 37,766.5 53,767.5 69,771 85,775 101,777 117,777 133,773 149,773 165,770 181,772 197,776.5 213,778.5 229,781 245,776 261,776 277,776 293,773 309,773 325,773 341,775 357,778 373,773 389,773 405,773 421,777 437,777.5 453,779 469,779 485,779 501,776.5 517,779 533,772.5 549,764 565,766.5 581,767 597,769 613,767 629,765.5 645,764 661,765.5 677,767.5 693,766.5 709,772 725,770 741,780.5 757,779.5 773,782.5 789,784 805,782.5 821,775.5 837,786 853,785 869,785 885,801 901,793 917,789 933,776 949,777 965,773.5 981,777 997,777 1013,771 1029,771 1045,771 1061,772 1077,772 1093,774 1109,771 1125,771 1141,773 1157,773 1173,759 1189,759 1205,765.5 1221,767 1237,767 1253,767 1269,772.5 1285,775.5 1301,777.5 1317,776 1333,777 1349,772.5 1365,766 1381,768.5 1397,765.5 1413,765" fill="none" stroke="#1e90ff" stroke-width="2" stroke-linejoin="round"/>
<text transform="translate(9.3 737) scale(0.9615 1)" fill="#000" stroke="#000" stroke-width="0.22" font-size="9.70">RSI(14) 60.3944</text>
<text transform="translate(1647.7 735) scale(0.9615 1)" fill="#000" stroke="#000" stroke-width="0.22" font-size="9.70">100</text>
<text transform="translate(1647.7 749) scale(0.9615 1)" fill="#000" stroke="#000" stroke-width="0.22" font-size="9.70">80</text>
<text transform="translate(1647.7 779) scale(0.9615 1)" fill="#000" stroke="#000" stroke-width="0.22" font-size="9.70">50</text>
<text transform="translate(1647.7 814) scale(0.9615 1)" fill="#000" stroke="#000" stroke-width="0.22" font-size="9.70">15</text>
<text transform="translate(1647.7 822) scale(0.9615 1)" fill="#000" stroke="#000" stroke-width="0.22" font-size="9.70">0</text>
<rect x="1645" y="726" width="1" height="1" fill="#000" shape-rendering="crispEdges"/>
<rect x="1645" y="824" width="1" height="1" fill="#000" shape-rendering="crispEdges"/>
<rect x="5" y="826" width="1" height="3" fill="#000" shape-rendering="crispEdges"/>
<text transform="translate(3.7 838) scale(0.9615 1)" fill="#000" stroke="#000" stroke-width="0.22" font-size="9.70">31 Mar 2023</text>
<rect x="69" y="826" width="1" height="3" fill="#000" shape-rendering="crispEdges"/>
<text transform="translate(68.5 838) scale(0.9615 1)" fill="#000" stroke="#000" stroke-width="0.22" font-size="9.70">3 Apr 08:00</text>
<rect x="133" y="826" width="1" height="3" fill="#000" shape-rendering="crispEdges"/>
<text transform="translate(132.5 838) scale(0.9615 1)" fill="#000" stroke="#000" stroke-width="0.22" font-size="9.70">4 Apr 00:00</text>
<rect x="197" y="826" width="1" height="3" fill="#000" shape-rendering="crispEdges"/>
<text transform="translate(196.5 838) scale(0.9615 1)" fill="#000" stroke="#000" stroke-width="0.22" font-size="9.70">4 Apr 16:00</text>
<rect x="261" y="826" width="1" height="3" fill="#000" shape-rendering="crispEdges"/>
<text transform="translate(260.5 838) scale(0.9615 1)" fill="#000" stroke="#000" stroke-width="0.22" font-size="9.70">5 Apr 08:00</text>
<rect x="325" y="826" width="1" height="3" fill="#000" shape-rendering="crispEdges"/>
<text transform="translate(324.5 838) scale(0.9615 1)" fill="#000" stroke="#000" stroke-width="0.22" font-size="9.70">6 Apr 00:00</text>
<rect x="389" y="826" width="1" height="3" fill="#000" shape-rendering="crispEdges"/>
<text transform="translate(388.5 838) scale(0.9615 1)" fill="#000" stroke="#000" stroke-width="0.22" font-size="9.70">6 Apr 16:00</text>
<rect x="453" y="826" width="1" height="3" fill="#000" shape-rendering="crispEdges"/>
<text transform="translate(452.5 838) scale(0.9615 1)" fill="#000" stroke="#000" stroke-width="0.22" font-size="9.70">7 Apr 08:00</text>
<rect x="517" y="826" width="1" height="3" fill="#000" shape-rendering="crispEdges"/>
<text transform="translate(516.5 838) scale(0.9615 1)" fill="#000" stroke="#000" stroke-width="0.22" font-size="9.70">10 Apr 04:00</text>
<rect x="581" y="826" width="1" height="3" fill="#000" shape-rendering="crispEdges"/>
<text transform="translate(580.5 838) scale(0.9615 1)" fill="#000" stroke="#000" stroke-width="0.22" font-size="9.70">10 Apr 20:00</text>
<rect x="645" y="826" width="1" height="3" fill="#000" shape-rendering="crispEdges"/>
<text transform="translate(644.5 838) scale(0.9615 1)" fill="#000" stroke="#000" stroke-width="0.22" font-size="9.70">11 Apr 12:00</text>
<rect x="709" y="826" width="1" height="3" fill="#000" shape-rendering="crispEdges"/>
<text transform="translate(708.5 838) scale(0.9615 1)" fill="#000" stroke="#000" stroke-width="0.22" font-size="9.70">12 Apr 04:00</text>
<rect x="773" y="826" width="1" height="3" fill="#000" shape-rendering="crispEdges"/>
<text transform="translate(772.5 838) scale(0.9615 1)" fill="#000" stroke="#000" stroke-width="0.22" font-size="9.70">12 Apr 20:00</text>
<rect x="837" y="826" width="1" height="3" fill="#000" shape-rendering="crispEdges"/>
<text transform="translate(836.5 838) scale(0.9615 1)" fill="#000" stroke="#000" stroke-width="0.22" font-size="9.70">13 Apr 12:00</text>
<rect x="901" y="826" width="1" height="3" fill="#000" shape-rendering="crispEdges"/>
<text transform="translate(900.5 838) scale(0.9615 1)" fill="#000" stroke="#000" stroke-width="0.22" font-size="9.70">14 Apr 04:00</text>
<rect x="965" y="826" width="1" height="3" fill="#000" shape-rendering="crispEdges"/>
<text transform="translate(964.5 838) scale(0.9615 1)" fill="#000" stroke="#000" stroke-width="0.22" font-size="9.70">17 Apr 00:00</text>
<rect x="1029" y="826" width="1" height="3" fill="#000" shape-rendering="crispEdges"/>
<text transform="translate(1028.5 838) scale(0.9615 1)" fill="#000" stroke="#000" stroke-width="0.22" font-size="9.70">17 Apr 16:00</text>
<rect x="1093" y="826" width="1" height="3" fill="#000" shape-rendering="crispEdges"/>
<text transform="translate(1092.5 838) scale(0.9615 1)" fill="#000" stroke="#000" stroke-width="0.22" font-size="9.70">18 Apr 08:00</text>
<rect x="1157" y="826" width="1" height="3" fill="#000" shape-rendering="crispEdges"/>
<text transform="translate(1156.5 838) scale(0.9615 1)" fill="#000" stroke="#000" stroke-width="0.22" font-size="9.70">19 Apr 00:00</text>
<rect x="1221" y="826" width="1" height="3" fill="#000" shape-rendering="crispEdges"/>
<text transform="translate(1220.5 838) scale(0.9615 1)" fill="#000" stroke="#000" stroke-width="0.22" font-size="9.70">19 Apr 16:00</text>
<rect x="1285" y="826" width="1" height="3" fill="#000" shape-rendering="crispEdges"/>
<text transform="translate(1284.5 838) scale(0.9615 1)" fill="#000" stroke="#000" stroke-width="0.22" font-size="9.70">20 Apr 08:00</text>
<rect x="1349" y="826" width="1" height="3" fill="#000" shape-rendering="crispEdges"/>
<text transform="translate(1348.5 838) scale(0.9615 1)" fill="#000" stroke="#000" stroke-width="0.22" font-size="9.70">21 Apr 00:00</text>
<rect x="1413" y="826" width="1" height="3" fill="#000" shape-rendering="crispEdges"/>
<text transform="translate(1412.5 838) scale(0.9615 1)" fill="#000" stroke="#000" stroke-width="0.22" font-size="9.70">21 Apr 16:00</text>
<g id="toolbar">
<rect x="5" y="0" width="1" height="17" fill="#a0a0a0" shape-rendering="crispEdges"/>
<g><path d="M16.5 1.5 h7 l3.5 3.5 v9.5 h-10.5 z" fill="#fff" stroke="#7c7c7c"/><path d="M23.5 1.5 v3.5 h3.5" fill="#e4e4e4" stroke="#7c7c7c"/><path d="M18.5 4.5 h3.5 M18.5 7.5 h5.5 M18.5 9.5 h3 M18.5 11.5 h2" stroke="#8a8a8a" /><path d="M23.4 7 h3.4 v3.8 h3.8 v3.4 h-3.8 v3.8 h-3.4 v-3.8 h-3.8 v-3.4 h3.8 z" fill="#2fd82f" stroke="#0c8c0c" stroke-width="0.9"/></g>
<text x="34.2" y="10.9" font-size="12" fill="#000" stroke="#000" stroke-width="0.26" style="font-family:'Liberation Sans','Noto Sans CJK SC',sans-serif;">新订单</text>
<path d="M82.3 9.6 L87.8 1.2 L98 8.6 L90 15.8 Z" fill="#e8b430" stroke="#b8820f" stroke-width="0.9"/><path d="M84 9.3 L88.2 3 L92.5 6 L87.5 12.2 Z" fill="#f8e07a"/><path d="M82.3 9.8 L90 16 L98 8.8" fill="none" stroke="#a86c0c" stroke-width="1.5"/>
<rect x="113.5" y="-1" width="10" height="12" fill="#2a86ea" stroke="#1a5fc0"/><rect x="114" y="0" width="2.5" height="10" fill="#56a8f4"/><rect x="117.5" y="2.5" width="5" height="2.2" fill="#e8f4ff"/><rect x="117.5" y="6.3" width="5" height="1.4" fill="#a8d6ff"/><path d="M112 16 a3 3 0 0 1 0.5 -6 a4 4 0 0 1 7 -1 a3.2 3.2 0 0 1 5 3.5 a2 2 0 0 1 -0.5 3.5 z" fill="#e9eff8" stroke="#6f8fc6" stroke-width="1"/>
<g fill="none"><path d="M146 0.6 A7 7 0 1 0 146 14.6" stroke="#9fb6ea" stroke-width="1.5"/><path d="M146 0.6 A7 7 0 0 1 152.8 6" stroke="#b4c6ee" stroke-width="1.3"/><path d="M146 3.2 A4.4 4.4 0 1 0 146 12" stroke="#4d7ede" stroke-width="1.5"/><path d="M146 3.2 A4.4 4.4 0 0 1 150.3 6.6" stroke="#5f8ee4" stroke-width="1.4"/><path d="M153 7.6 A7 7 0 0 1 146.3 14.6" stroke="#58b058" stroke-width="1.7"/><path d="M150.4 7.6 A4.4 4.4 0 0 1 146.4 12" stroke="#8fcf8f" stroke-width="1.2"/></g><path d="M146.6 7.5 V15.2" stroke="#2f9a2f" stroke-width="1.6"/><circle cx="146" cy="7.3" r="1.9" fill="#2f6fe0"/>
<path d="M166 7 L181 7 L178 12 L172.5 15.5 Z" fill="#f6d648" stroke="#d8a818" stroke-width="0.8"/><ellipse cx="173" cy="4.5" rx="8" ry="2.8" fill="#5fb4ec" stroke="#3a8ccc" stroke-width="0.8"/><path d="M169.5 4 q3.5 -7 7 0 z" fill="#7cc4f2" stroke="#3a8ccc" stroke-width="0.8"/><circle cx="177.5" cy="11.5" r="4.3" fill="#d83018"/><rect x="175.8" y="9.8" width="3.4" height="3.4" fill="#fff"/>
<text x="186.3" y="10.9" font-size="11.9" fill="#000" stroke="#000" stroke-width="0.26" style="font-family:'Liberation Sans','Noto Sans CJK SC',sans-serif;">自动交易</text>
<rect x="241" y="0" width="1" height="19" fill="#a0a0a0" shape-rendering="crispEdges"/>
<rect x="245" y="0" width="3" height="1" fill="#a8a8a8" shape-rendering="crispEdges"/>
<rect x="245" y="2" width="3" height="1" fill="#a8a8a8" shape-rendering="crispEdges"/>
<rect x="245" y="4" width="3" height="1" fill="#a8a8a8" shape-rendering="crispEdges"/>
<rect x="245" y="6" width="3" height="1" fill="#a8a8a8" shape-rendering="crispEdges"/>
<rect x="245" y="8" width="3" height="1" fill="#a8a8a8" shape-rendering="crispEdges"/>
<rect x="245" y="10" width="3" height="1" fill="#a8a8a8" shape-rendering="crispEdges"/>
<rect x="245" y="12" width="3" height="1" fill="#a8a8a8" shape-rendering="crispEdges"/>
<rect x="245" y="14" width="3" height="1" fill="#a8a8a8" shape-rendering="crispEdges"/>
<rect x="245" y="16" width="3" height="1" fill="#a8a8a8" shape-rendering="crispEdges"/>
<g stroke="#555" stroke-width="1.2" fill="none"><path d="M259.5 2.5 V15.5 M257 13.5 H270"/></g><path d="M259.5 1.2 l-1.9 2.8 h3.8 z M271.3 13.5 l-2.8 -1.9 v3.8 z" fill="#555"/>
<path d="M265.5 3.5 V11.5 M262.5 10.5 H265.5 M265.5 4.5 H268.5" stroke="#0c8c0c" stroke-width="1.4" fill="none"/>
<rect x="279" y="0" width="1" height="17" fill="#a0a0a0" shape-rendering="crispEdges"/>
<rect x="280" y="0" width="25" height="18" fill="#f8f8f8" shape-rendering="crispEdges"/>
<g stroke="#555" stroke-width="1.2" fill="none"><path d="M287.5 2.5 V15.5 M285 13.5 H298"/></g><path d="M287.5 1.2 l-1.9 2.8 h3.8 z M299.3 13.5 l-2.8 -1.9 v3.8 z" fill="#555"/>
<path d="M293.5 0 V12" stroke="#0c8c0c" stroke-width="1.4"/><rect x="291.5" y="2.5" width="4" height="7" fill="#3be03b" stroke="#0c8c0c"/>
<g stroke="#555" stroke-width="1.2" fill="none"><path d="M315.5 2.5 V15.5 M313 13.5 H326"/></g><path d="M315.5 1.2 l-1.9 2.8 h3.8 z M327.3 13.5 l-2.8 -1.9 v3.8 z" fill="#555"/>
<path d="M314 11 C317 9 318 4.5 320.5 5 C322.5 5.5 324 9 326.5 9.3" stroke="#2a9a2a" stroke-width="1.3" fill="none"/>
<rect x="336" y="0" width="1" height="17" fill="#a0a0a0" shape-rendering="crispEdges"/>
<path d="M355 9.8 L359.6 14.6" stroke="#b8901a" stroke-width="3.4" stroke-linecap="round"/><path d="M355 9.8 L359.6 14.6" stroke="#e8c83a" stroke-width="2" stroke-linecap="round"/><circle cx="351" cy="5.5" r="5.2" fill="#dcecfc" stroke="#4384d6" stroke-width="1.4"/><path d="M348.2 5.5 h5.6 M351 2.7 v5.6" stroke="#3d6fb8" stroke-width="1.6"/>
<path d="M383 9.8 L387.6 14.6" stroke="#b8901a" stroke-width="3.4" stroke-linecap="round"/><path d="M383 9.8 L387.6 14.6" stroke="#e8c83a" stroke-width="2" stroke-linecap="round"/><circle cx="379" cy="5.5" r="5.2" fill="#dcecfc" stroke="#4384d6" stroke-width="1.4"/><path d="M376.2 5.5 h5.6 " stroke="#3d6fb8" stroke-width="1.6"/>
<rect x="401" y="0" width="8" height="8" fill="#3a9c20"/><rect x="402" y="3" width="6" height="4" fill="#fff"/><rect x="403" y="4.5" width="4" height="1" fill="#3a9c20" opacity="0.55"/><rect x="402" y="1" width="1" height="1" fill="#fff" opacity="0.8"/>
<rect x="409" y="0" width="8" height="8" fill="#2f5fd8"/><rect x="410" y="3" width="6" height="4" fill="#fff"/><rect x="411" y="4.5" width="4" height="1" fill="#2f5fd8" opacity="0.55"/><rect x="410" y="1" width="1" height="1" fill="#fff" opacity="0.8"/>
<rect x="401" y="8" width="8" height="8" fill="#2f5fd8"/><rect x="402" y="11" width="6" height="4" fill="#fff"/><rect x="403" y="12.5" width="4" height="1" fill="#2f5fd8" opacity="0.55"/><rect x="402" y="9" width="1" height="1" fill="#fff" opacity="0.8"/>
<rect x="409" y="8" width="8" height="8" fill="#3a9c20"/><rect x="410" y="11" width="6" height="4" fill="#fff"/><rect x="411" y="12.5" width="4" height="1" fill="#3a9c20" opacity="0.55"/><rect x="410" y="9" width="1" height="1" fill="#fff" opacity="0.8"/>
<rect x="426" y="0" width="1" height="17" fill="#a0a0a0" shape-rendering="crispEdges"/>
<rect x="431" y="0" width="1" height="17" fill="#a0a0a0" shape-rendering="crispEdges"/>
<rect x="432" y="0" width="24" height="18" fill="#f8f8f8" shape-rendering="crispEdges"/>
<g stroke="#555" stroke-width="1.2" fill="none"><path d="M439.5 2.5 V15.5 M437 13.5 H450"/></g><path d="M439.5 1.2 l-1.9 2.8 h3.8 z M451.3 13.5 l-2.8 -1.9 v3.8 z" fill="#555"/>
<path d="M444 4 L448.5 7.5 L444 11 Z" fill="#3bd03b" stroke="#1a9a1a" stroke-width="0.8"/>
<rect x="459" y="0" width="1" height="17" fill="#a0a0a0" shape-rendering="crispEdges"/>
<rect x="460" y="0" width="24" height="18" fill="#f8f8f8" shape-rendering="crispEdges"/>
<g stroke="#555" stroke-width="1.2" fill="none"><path d="M467.5 2.5 V15.5 M465 13.5 H478"/></g><path d="M467.5 1.2 l-1.9 2.8 h3.8 z M479.3 13.5 l-2.8 -1.9 v3.8 z" fill="#555"/>
<path d="M473.5 2 V12" stroke="#1a6aa8" stroke-width="1.4"/><path d="M475 7.5 L478 5 V7 H479.5 V8 H478 V10 Z" fill="#d84800"/>
<rect x="488" y="0" width="1" height="17" fill="#a0a0a0" shape-rendering="crispEdges"/>
<g><path d="M499.5 1.5 h6 l3.5 3.5 v8.5 h-9.5 z" fill="#fff" stroke="#8a8a8a"/><path d="M505.5 1.5 v3.5 h3.5" fill="#e8e8e8" stroke="#8a8a8a"/><path d="M504 3.5 q-2 0 -2 2 v5 M500.8 6.5 h3" stroke="#555" fill="none"/><path d="M506.4 6.8 h3.4 v3.8 h3.8 v3.4 h-3.8 v3.8 h-3.4 v-3.8 h-3.8 v-3.4 h3.8 z" fill="#2fd82f" stroke="#0c8c0c" stroke-width="0.9"/></g>
<path d="M520 7 h6 l-3 3.2 z" fill="#000"/>
<circle cx="544.2" cy="8" r="7.8" fill="#1f7de6" stroke="#0f55b0" stroke-width="0.8"/><circle cx="544.2" cy="8" r="5.2" fill="#f2f5f9" stroke="#a8c8f0" stroke-width="0.6"/><path d="M544.2 4.5 V8.3 H546.8" stroke="#333" stroke-width="1" fill="none"/>
<path d="M559 7 h6 l-3 3.2 z" fill="#000"/>
<rect x="575.5" y="1.5" width="15" height="13" fill="#fff" stroke="#3a78d0" stroke-width="1.2"/><rect x="576" y="2" width="14" height="2" fill="#5a9ae8"/><path d="M576 8.5 h14" stroke="#3a78d0" stroke-width="1"/><path d="M577.5 7 l3 -1.5 l2 1 l2.5 -1.5 l3 0.5" stroke="#b81c0c" stroke-width="1.3" fill="none"/><path d="M577.5 12.5 l3 -1 l2 1 l2.5 -2.2 l3 2" stroke="#1c9a1c" stroke-width="1.3" fill="none"/>
<path d="M598 7 h6 l-3 3.2 z" fill="#000"/>
<rect x="609" y="0" width="1" height="19" fill="#a0a0a0" shape-rendering="crispEdges"/>
<rect x="613" y="0" width="3" height="1" fill="#a8a8a8" shape-rendering="crispEdges"/>
<rect x="613" y="2" width="3" height="1" fill="#a8a8a8" shape-rendering="crispEdges"/>
<rect x="613" y="4" width="3" height="1" fill="#a8a8a8" shape-rendering="crispEdges"/>
<rect x="613" y="6" width="3" height="1" fill="#a8a8a8" shape-rendering="crispEdges"/>
<rect x="613" y="8" width="3" height="1" fill="#a8a8a8" shape-rendering="crispEdges"/>
<rect x="613" y="10" width="3" height="1" fill="#a8a8a8" shape-rendering="crispEdges"/>
<rect x="613" y="12" width="3" height="1" fill="#a8a8a8" shape-rendering="crispEdges"/>
<rect x="613" y="14" width="3" height="1" fill="#a8a8a8" shape-rendering="crispEdges"/>
<rect x="613" y="16" width="3" height="1" fill="#a8a8a8" shape-rendering="crispEdges"/>
<rect x="619" y="0" width="1" height="17" fill="#a0a0a0" shape-rendering="crispEdges"/>
<rect x="620" y="0" width="24" height="18" fill="#f8f8f8" shape-rendering="crispEdges"/>
<path d="M627 1 V12.5 L629.7 10.2 L632.2 15.3 L634.2 14.3 L631.8 9.5 L635.3 9 Z" fill="#444"/>
<path d="M652 8.5 H658 M661 8.5 H667 M659.5 1 V7 M659.5 10 V16" stroke="#444" stroke-width="1" shape-rendering="crispEdges"/>
<rect x="676" y="0" width="1" height="17" fill="#a0a0a0" shape-rendering="crispEdges"/>
<path d="M693.5 2 V15 M716 8.5 H728" stroke="#444" stroke-width="1" shape-rendering="crispEdges"/>
<path d="M744 14.5 L756 3" stroke="#444" stroke-width="1.1"/>
<g stroke="#444" stroke-width="1" fill="none"><path d="M770 10 L780 1.5 M771 14.5 L783 5 M782 0 V6"/><path d="M773 8 l1.5 5 M775.5 6 l1.5 5 M778 4 l1.5 5 M780.5 2.5 l1.5 4" stroke-width="0.9"/></g>
<text x="781" y="17" font-size="7" font-weight="bold" fill="#333">E</text>
<line x1="799" x2="813" y1="1.5" y2="1.5" stroke="#444" stroke-dasharray="1 1" shape-rendering="crispEdges"/>
<line x1="799" x2="813" y1="4.5" y2="4.5" stroke="#444" stroke-dasharray="1 1" shape-rendering="crispEdges"/>
<line x1="799" x2="813" y1="8.5" y2="8.5" stroke="#444" stroke-dasharray="1 1" shape-rendering="crispEdges"/>
<line x1="799" x2="808" y1="12.5" y2="12.5" stroke="#444" stroke-dasharray="1 1" shape-rendering="crispEdges"/>
<text x="809" y="17" font-size="7" font-weight="bold" fill="#333">F</text>
<text x="829.3" y="13" font-size="13" fill="#555">A</text>
<rect x="856.5" y="2.5" width="11" height="12" fill="none" stroke="#444" stroke-dasharray="1 1" shape-rendering="crispEdges"/><path d="M858 5.7 H866 M862 5.7 V13" stroke="#555" stroke-width="1.5"/>
<path d="M883 5.5 l3.5 -3.5 l3.5 3.5 l-3.5 1.5 z M890 11.5 l3.5 3.5 l3.5 -3.5 l-3.5 -1.5 z" fill="#444"/><path d="M885 9 l2 2.5 l4.5 -6" stroke="#444" stroke-width="1.3" fill="none"/>
<path d="M904 7 h6 l-3 3.2 z" fill="#000"/>
<rect x="915" y="0" width="1" height="19" fill="#a0a0a0" shape-rendering="crispEdges"/>
<rect x="919" y="0" width="3" height="1" fill="#a8a8a8" shape-rendering="crispEdges"/>
<rect x="919" y="2" width="3" height="1" fill="#a8a8a8" shape-rendering="crispEdges"/>
<rect x="919" y="4" width="3" height="1" fill="#a8a8a8" shape-rendering="crispEdges"/>
<rect x="919" y="6" width="3" height="1" fill="#a8a8a8" shape-rendering="crispEdges"/>
<rect x="919" y="8" width="3" height="1" fill="#a8a8a8" shape-rendering="crispEdges"/>
<rect x="919" y="10" width="3" height="1" fill="#a8a8a8" shape-rendering="crispEdges"/>
<rect x="919" y="12" width="3" height="1" fill="#a8a8a8" shape-rendering="crispEdges"/>
<rect x="919" y="14" width="3" height="1" fill="#a8a8a8" shape-rendering="crispEdges"/>
<rect x="919" y="16" width="3" height="1" fill="#a8a8a8" shape-rendering="crispEdges"/>
<rect x="1065" y="0" width="1" height="17" fill="#a0a0a0" shape-rendering="crispEdges"/>
<rect x="1066" y="0" width="24" height="18" fill="#f8f8f8" shape-rendering="crispEdges"/>
<rect x="1176" y="0" width="1" height="19" fill="#a0a0a0" shape-rendering="crispEdges"/>
<text x="930.5" y="11.9" font-size="9.6" fill="#444">M1</text>
<text x="958.5" y="11.9" font-size="9.6" fill="#444">M5</text>
<text x="984.5" y="11.9" font-size="9.6" fill="#444">M15</text>
<text x="1012.5" y="11.9" font-size="9.6" fill="#444">M30</text>
<text x="1043.3" y="11.9" font-size="9.6" fill="#444">H1</text>
<text x="1070.2" y="11.9" font-size="9.6" fill="#444">H4</text>
<text x="1099.5" y="11.9" font-size="9.6" fill="#444">D1</text>
<text x="1127.2" y="11.9" font-size="9.6" fill="#444">W1</text>
<text x="1153.5" y="11.9" font-size="9.6" fill="#444">MN</text>
<circle cx="1646.4" cy="4.8" r="3.8" fill="#fff" stroke="#2a5fd8" stroke-width="1.3"/><path d="M1643.5 8 L1639 12.6" stroke="#2a5fd8" stroke-width="2.2" stroke-linecap="round"/>
<path d="M1664 10 a5 4.5 0 0 1 10 -2 a5 4.5 0 0 1 -5 6 q-1 0 -1.5 0 l-1.5 2.5 v-3 q-2 -1 -2 -3.5 z" fill="#f4f4f4" stroke="#b8b8b8" stroke-width="0.8"/><circle cx="1677.5" cy="5.3" r="8.2" fill="#d83a1e"/><text x="1674.2" y="9.8" font-size="12.5" fill="#fff">1</text>
</g>
</svg>
</body></html>
